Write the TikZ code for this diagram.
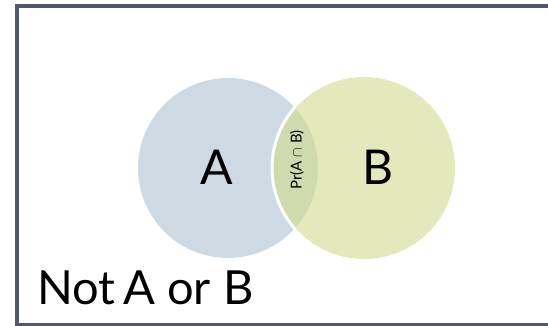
\documentclass[tikz,border=0pt]{standalone}
\usepackage{fontspec}
\setmainfont{Lato}
\definecolor{frame}{HTML}{4F5774}
\definecolor{acol}{HTML}{CDDAE4}
\definecolor{bcol}{HTML}{E4E9BB}
\definecolor{abcol}{HTML}{CFDBAF}
\tikzset{
  lbl/.style={inner sep=0pt, text=black},
}
\begin{document}
\begin{tikzpicture}[x=1pt,y=-1pt]
\useasboundingbox (0,0) rectangle (548,325);
\begin{scope}
\clip (0,0) rectangle (548,325);
\draw[frame, line width=4pt] (17,6) rectangle (600,325);
\end{scope}
\fill[acol] (228,168) circle (90);
\fill[bcol] (364,168) circle (91);
\begin{scope}
\clip (228,168) circle (90);
\fill[abcol] (364,168) circle (91);
\end{scope}
\begin{scope}
\clip (228,168) circle (91.5);
\draw[white, line width=3pt] (364,168) circle (92);
\end{scope}
\node[lbl, font=\fontsize{48}{48}\selectfont] (a) at (217,167) {A};
\node[lbl, font=\fontsize{48}{48}\selectfont] (b) at (378,167) {B};
\node[lbl, rotate=90, font=\fontsize{15}{15}\selectfont] (ab) at (297,160) {Pr(A $\cap$ B)};
\node[lbl, anchor=base west, font=\fontsize{47}{47}\selectfont] (n) at (37,304) {Not\hspace{-4pt} A or B};
\end{tikzpicture}
\end{document}
